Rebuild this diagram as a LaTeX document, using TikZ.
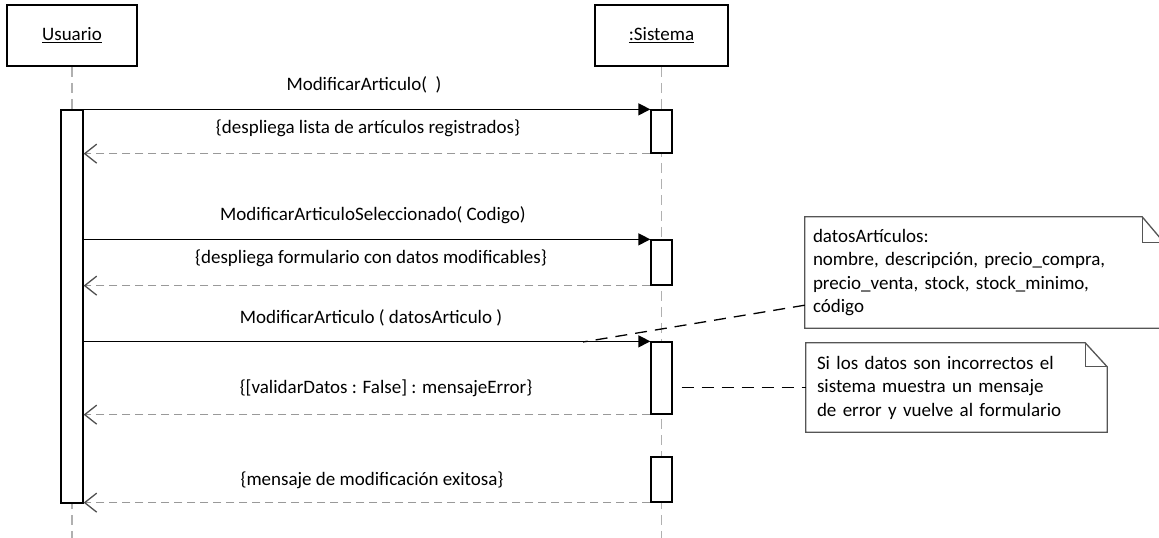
\documentclass[tikz,border=0pt]{standalone}
\usepackage{fontspec}
\setmainfont{Carlito}
\usetikzlibrary{arrows.meta}
\definecolor{lifegray}{HTML}{B0B0B0}
\definecolor{retgray}{HTML}{999999}
\definecolor{tipgray}{HTML}{505050}
\definecolor{notegray}{HTML}{555555}
\tikzset{
  head/.style={draw, line width=1.5pt, minimum width=#1, minimum height=61pt, inner sep=0pt},
  act/.style={draw, fill=white, line width=1.3pt, minimum width=21pt, inner sep=0pt},
  lifeline/.style={lifegray, line width=1.8pt, dash pattern=on 10pt off 6pt},
  msg/.style={line width=1.3pt, -{Triangle[length=12pt,width=12pt]}},
  ret/.style={retgray, line width=1.5pt, dash pattern=on 8pt off 5pt,
    -{Straight Barb[length=12pt,width=19pt,line width=1.3pt,color=tipgray]}},
  notelink/.style={line width=1.3pt, dash pattern=on 12pt off 8pt},
  notetext/.style={align=left, inner ysep=0pt},
}
% nota con esquina doblada
\newcommand{\foldnote}[3]{%
  \draw[notegray, line width=1.3pt] (#1.south west) -- (#1.north west)
    -- ([xshift=-#2]#1.north east) -- ([yshift=-#3]#1.north east)
    -- (#1.south east) -- cycle;
  \draw[notegray, line width=1.3pt] ([xshift=-#2]#1.north east)
    -- ([xshift=-#2,yshift=-#3]#1.north east) -- ([yshift=-#3]#1.north east);
}
\begin{document}
\begin{tikzpicture}[x=1pt, y=-1pt, font=\fontsize{19}{23.5}\selectfont]
    \useasboundingbox (0,0) rectangle (1159,538);
    % Objetos
    \node[head=130pt] (u) at (72,35.5) {\underline{Usuario}};
    \node[head=133pt] (s) at (661.5,35.5) {\underline{:Sistema}};
    \draw[lifeline] (u.south) -- (u.south |- 0,538);
    \draw[lifeline] (s.south) -- (s.south |- 0,538);
    % Activaciones
    \node[act, minimum width=22pt, minimum height=393pt] (ua) at (72,306.5) {};
    \node[act, minimum height=43pt] (sa1) at (661.5,131.5) {};
    \node[act, minimum height=45pt] (sa2) at (661.5,262.5) {};
    \node[act, minimum height=72pt] (sa3) at (661.5,378) {};
    \node[act, minimum height=45pt] (sa4) at (661.5,479.5) {};
    % Mensajes
    \draw[msg] (ua.east |- sa1.north west) -- (sa1.north west);
    \draw[ret] (sa1.south west) -- (ua.east |- sa1.south west);
    \draw[msg] (ua.east |- sa2.north west) -- (sa2.north west);
    \draw[ret] (sa2.south west) -- (ua.east |- sa2.south west);
    \draw[msg] (ua.east |- sa3.north west) -- (sa3.north west);
    \draw[ret] (sa3.south west) -- (ua.east |- sa3.south west);
    \draw[ret] (sa4.south west) -- (ua.east |- sa4.south west);
    % Etiquetas
    \node (m1) at (364,85) {ModificarArticulo(~ )};
    \node (m2) at (368,128) {\{despliega lista de artículos registrados\}};
    \node (m3) at (373,215) {ModificarArticuloSeleccionado( Codigo)};
    \node (m4) at (371,258) {\{despliega formulario con datos modificables\}};
    \node (m5) at (371,318) {ModificarArticulo ( datosArticulo )};
    \node (m6) at (386,388) {\{[validarDatos : False] : mensajeError\}};
    \node (m7) at (372,480) {\{mensaje de modificación exitosa\}};
    % Notas
    \node[notetext, text width=343pt, inner xsep=8pt, minimum height=111pt] (n1) at (984.5,272.5)
      {datosArtículos:\\nombre, descripción, precio\_compra,\\precio\_venta, stock, stock\_minimo,\\código};
    \foldnote{n1}{22pt}{26pt}
    \node[notetext, text width=279pt, inner xsep=11pt, minimum height=89pt] (n2) at (956.5,387.5)
      {Si los datos son incorrectos el\\sistema muestra un mensaje\\de error y vuelve al formulario};
    \foldnote{n2}{22pt}{24pt}
    \coordinate (c3) at (583,342);
    \draw[notelink] ([yshift=23pt]n1.south west) -- (c3);
    \draw[notelink] ([xshift=9pt]sa3.east |- n2.west) -- (n2.west);
\end{tikzpicture}
\end{document}
